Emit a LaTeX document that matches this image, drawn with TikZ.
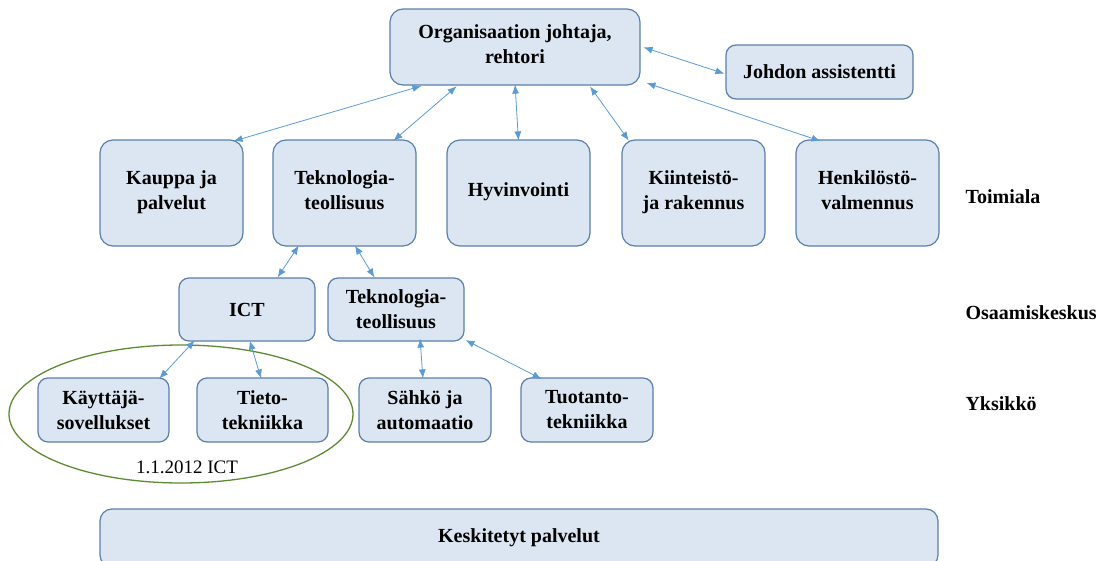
\documentclass[tikz,border=0pt]{standalone}
\usepackage{fontspec}
\setmainfont{Liberation Serif}
\usetikzlibrary{arrows.meta,shapes.geometric}
\definecolor{boxfill}{HTML}{DCE6F2}
\definecolor{boxline}{HTML}{5A7FAA}
\definecolor{link}{HTML}{5B9BD5}
\definecolor{ring}{HTML}{5E8A33}
\begin{document}
\begin{tikzpicture}[x=1pt,y=-1pt,
  unit/.style={draw=boxline, fill=boxfill, line width=1.2pt, rounded corners=13pt,
    align=center, inner sep=0pt, font=\fontsize{20}{25}\selectfont\bfseries},
  small/.style={unit, rounded corners=10pt},
  level/.style={anchor=west, font=\fontsize{20}{22}\selectfont\bfseries},
  link/.style={draw=link, line width=0.8pt, {Latex[length=9pt,width=7pt]}-{Latex[length=9pt,width=7pt]},
    shorten <=1pt, shorten >=1pt}]
\useasboundingbox (0,0) rectangle (1109,560);

% top management
\node[unit, minimum width=250pt, minimum height=76pt, text depth=6pt] (org) at (515,47) {Organisaation johtaja,\\rehtori};
\node[small, minimum width=187pt, minimum height=54pt] (assist) at (819.5,72) {Johdon assistentti};

% divisions
\begin{scope}[every node/.append style={text depth=6pt}]
\node[unit, minimum width=143pt, minimum height=106pt] (kauppa) at (171.5,193) {Kauppa ja\\palvelut};
\node[unit, minimum width=143pt, minimum height=106pt] (tekno) at (344.5,193) {Teknologia-\\teollisuus};
\node[unit, minimum width=143pt, minimum height=106pt] (hyvin) at (518.5,193) {Hyvinvointi};
\node[unit, minimum width=143pt, minimum height=106pt] (kiint) at (693.5,193) {Kiinteistö-\\ja rakennus};
\node[unit, minimum width=143pt, minimum height=106pt] (henk) at (867.5,193) {Henkilöstö-\\valmennus};
\end{scope}

% competence centres
\node[small, minimum width=136pt, minimum height=63pt] (ict) at (247,309.5) {ICT};
\node[small, minimum width=136pt, minimum height=63pt] (teknoc) at (396,309.5) {Teknologia-\\teollisuus};

% units
\begin{scope}[every node/.append style={font=\fontsize{20}{33}\selectfont\bfseries}]
\node[small, minimum width=131pt, minimum height=64pt] (kayt) at (103.5,410) {Käyttäjä-\\sovellukset};
\node[small, minimum width=131pt, minimum height=64pt] (tieto) at (262.5,410) {Tieto-\\tekniikka};
\node[small, minimum width=132pt, minimum height=64pt] (sahko) at (425,410) {Sähkö ja\\automaatio};
\node[small, minimum width=132pt, minimum height=64pt] (tuot) at (587,410) {Tuotanto-\\tekniikka};
\end{scope}

% merged ICT group
\node[draw=ring, line width=1.3pt, ellipse, minimum width=344pt, minimum height=138pt, inner sep=0pt] (group) at (181,414) {};
\node[font=\fontsize{19}{22}\selectfont] (grouplbl) at (187,467) {1.1.2012 ICT};

% shared services
\node[unit, rounded corners=12pt, minimum width=838pt, minimum height=58pt] (kesk) at (519,538) {Keskitetyt palvelut};

% level captions
\node[level] (toimiala) at (962,197) {Toimiala};
\node[level] (osaam) at (962,313) {Osaamiskeskus};
\node[level] (yksikko) at (962,404) {Yksikkö};

% reporting lines
\draw[link] ([xshift=33pt]org.south west) -- ([xshift=-11pt,yshift=-2pt]kauppa.north east);
\draw[link] ([xshift=68pt]org.south west) -- ([xshift=-24pt,yshift=-2pt]tekno.north east);
\draw[link] ([yshift=2pt]org.south) -- ([yshift=-2pt]hyvin.north);
\draw[link] ([xshift=200pt]org.south west) -- ([xshift=8pt,yshift=-2pt]kiint.north west);
\draw[link] ([xshift=5pt,yshift=3pt]org.south east) -- ([xshift=26pt,yshift=-2pt]henk.north west);
\draw[link] ([xshift=2pt]org.east) -- ([yshift=-2pt]assist.west);
\draw[link] ([xshift=27pt,yshift=2pt]tekno.south west) -- ([xshift=30pt,yshift=-1pt]ict.north);
\draw[link] ([xshift=82pt,yshift=2pt]tekno.south west) -- ([xshift=-21pt,yshift=-1pt]teknoc.north);
\draw[link] ([xshift=17pt,yshift=2pt]ict.south west) -- ([xshift=-11pt,yshift=-2pt]kayt.north east);
\draw[link] ([xshift=71pt,yshift=2pt]ict.south west) -- ([xshift=65pt,yshift=-2pt]tieto.north west);
\draw[link] ([xshift=24pt,yshift=4pt]teknoc.south) -- ([xshift=-2pt,yshift=-2pt]sahko.north);
\draw[link] ([yshift=2pt]teknoc.south east) -- ([xshift=22pt,yshift=-2pt]tuot.north west);
\end{tikzpicture}
\end{document}
